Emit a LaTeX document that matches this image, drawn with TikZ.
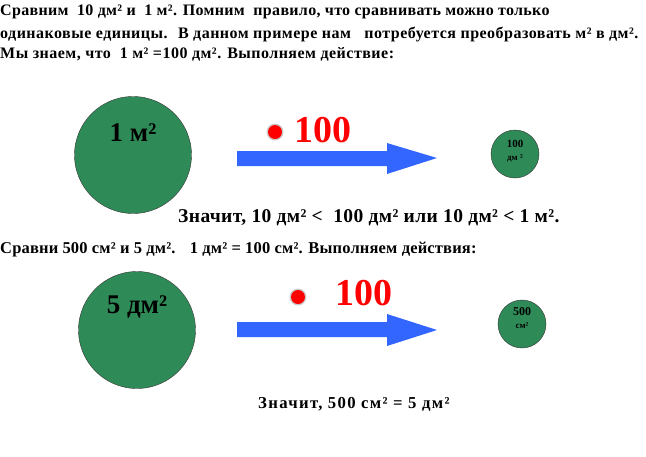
\documentclass[tikz,border=0pt]{standalone}
\usepackage{fontspec}
\setmainfont{Liberation Serif}
\usepackage{tikz}
\usetikzlibrary{positioning,shapes,arrows}
\definecolor{dgreen}{RGB}{46,139,87}
\definecolor{dblue}{RGB}{51,102,255}
\newcommand{\txtfont}[2]{\bfseries\fontsize{#1}{#1}\selectfont\addfontfeature{LetterSpace=#2}}
\tikzstyle{txt}=[anchor=base west, inner sep=0pt, font=\txtfont{16}{3}]
\tikzstyle{bigdisc}=[circle, draw=black!80, fill=dgreen, minimum size=117pt, inner sep=0pt]
\tikzstyle{smalldisc}=[circle, draw=black!80, fill=dgreen, minimum size=48pt, inner sep=0pt]
\tikzstyle{biglabel}=[font=\bfseries\fontsize{27}{27}\selectfont, inner sep=0pt]
\tikzstyle{rednum}=[text=red, font=\bfseries\fontsize{38}{38}\selectfont, inner sep=0pt]
\tikzstyle{tinylabel}=[inner sep=0pt, font=\bfseries\fontsize{11}{11}\selectfont]

\begin{document}
\begin{tikzpicture}[x=1pt, y=-1pt]
      \useasboundingbox (0,0) rectangle (646,456);
      %Header
      \node[txt, font=\txtfont{16}{2}] (h1) at (0,15) {Сравним \ 10 дм² и \ 1 м². Помним \ правило, что сравнивать можно только};
      \node[txt] (h2) at (0,38) {одинаковые единицы. \ В данном примере нам \ \ потребуется преобразовать м² в дм².};
      \node[txt] (h3) at (0,58) {Мы знаем, что \ 1 м² =100 дм². Выполняем действие:};

      %First example
      \node[bigdisc] (A) at (133,155) {};
      \node[biglabel] (Al) at (133,133) {1 м²};
      \fill[dblue] (237,151) -- (387,151) -- (387,143) -- (437,158) -- (387,174) -- (387,166) -- (237,166) -- cycle;
      \fill[black!20] (275,132) circle (8.5);
      \fill[red] (275,132) circle (7);
      \node[rednum, anchor=west] (n1) at (294,130) {100};
      \node[smalldisc] (B) at (515,154) {};
      \node[tinylabel] (Bl) at (515,144) {100};
      \node[tinylabel, font=\bfseries\fontsize{9}{9}\selectfont] (Bu) at (515,158) {дм ²};
      \node[txt, font=\txtfont{19.5}{2}] (r1) at (178,222) {Значит, 10 дм² < \ 100 дм² или 10 дм² < 1 м².};

      %Second example
      \node[txt, font=\txtfont{16.5}{1}] (h4) at (0,253) {Сравни 500 см² и 5 дм². \ \ 1 дм² = 100 см². Выполняем действия:};
      \node[bigdisc] (C) at (137,330) {};
      \node[biglabel] (Cl) at (137,307) {5 дм²};
      \fill[dblue] (237,322) -- (387,322) -- (387,314) -- (437,330) -- (387,346) -- (387,337) -- (237,337) -- cycle;
      \fill[black!20] (298,297) circle (8.5);
      \fill[red] (298,297) circle (7);
      \node[rednum, anchor=west] (n2) at (335,293) {100};
      \node[smalldisc] (D) at (522,324) {};
      \node[tinylabel, font=\bfseries\fontsize{12}{12}\selectfont] (Dl) at (522,312) {500};
      \node[tinylabel, font=\bfseries\fontsize{9}{9}\selectfont] (Du) at (522,326) {см²};
      \node[txt, font=\txtfont{16.7}{8}] (r2) at (258,408) {Значит, 500 см² = 5 дм²};
\end{tikzpicture}
\end{document}
